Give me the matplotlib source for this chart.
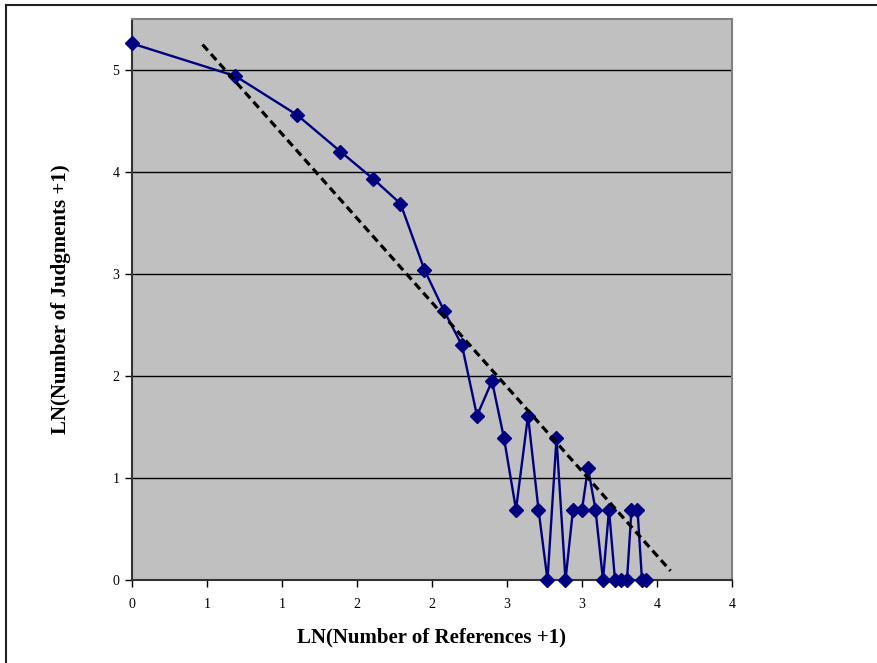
import matplotlib
matplotlib.use("Agg")
import matplotlib.pyplot as plt
from matplotlib.lines import Line2D

# LN(Number of References +1) vs LN(Number of Judgments +1)
x_refs = [0.00, 0.69, 1.10, 1.39, 1.61, 1.79, 1.95, 2.08, 2.20, 2.30, 2.40,
          2.48, 2.56, 2.64, 2.71, 2.77, 2.83, 2.89, 2.94, 3.00, 3.04, 3.09,
          3.14, 3.18, 3.22, 3.26, 3.30, 3.33, 3.37, 3.40, 3.43]
y_judg = [5.26, 4.94, 4.56, 4.20, 3.93, 3.69, 3.04, 2.64, 2.30, 1.61, 1.95,
          1.39, 0.69, 1.61, 0.69, 0.00, 1.39, 0.00, 0.69, 0.69, 1.10, 0.69,
          0.00, 0.69, 0.00, 0.00, 0.00, 0.69, 0.69, 0.00, 0.00]

# dashed trend line end points
trend_x = [0.47, 3.59]
trend_y = [5.25, 0.09]

x_ticks = [0, 0.5, 1, 1.5, 2, 2.5, 3, 3.5, 4]
x_tick_labels = ["0", "1", "1", "2", "2", "3", "3", "4", "4"]
y_ticks = [0, 1, 2, 3, 4, 5]

plt.rcParams["font.family"] = ["Liberation Serif", "DejaVu Serif"]

fig = plt.figure(figsize=(8.78, 6.63), dpi=100)
ax = fig.add_axes([132 / 878, 83 / 663, 600 / 878, 561 / 663])
ax.set_facecolor("#C0C0C0")

ax.plot(x_refs, y_judg, color="#000080", lw=1.7, marker="D", ms=7.5,
        zorder=3, clip_on=False)
ax.plot(trend_x, trend_y, color="black", lw=2.3, linestyle=(0, (2.5, 1.5)),
        zorder=4)

ax.set_xlim(0, 4)
ax.set_ylim(0, 5.5)
ax.set_xticks(x_ticks)
ax.set_xticklabels(x_tick_labels)
ax.set_yticks(y_ticks)

for y in y_ticks[1:]:
    ax.axhline(y, color="black", lw=1, zorder=1)

ax.tick_params(axis="both", direction="out", length=5, width=1,
               labelsize=10, colors="black")
ax.tick_params(axis="x", pad=8)
ax.tick_params(axis="y", pad=4)

for side in ("top", "right"):
    ax.spines[side].set_color("#808080")
    ax.spines[side].set_linewidth(1.5)
for side in ("left", "bottom"):
    ax.spines[side].set_color("#333333")
    ax.spines[side].set_linewidth(1.5)

ax.set_xlabel("LN(Number of References +1)", fontsize=15, fontweight="bold",
              labelpad=12)
ax.set_ylabel("LN(Number of Judgments +1)", fontsize=15, fontweight="bold",
              labelpad=30)

# outer frame (only top and left edges visible)
fig.add_artist(Line2D([6 / 878, 1], [1 - 5 / 663, 1 - 5 / 663],
                      color="#222222", lw=1.5, transform=fig.transFigure))
fig.add_artist(Line2D([6 / 878, 6 / 878], [0, 1 - 5 / 663],
                      color="#222222", lw=1.5, transform=fig.transFigure))

fig.savefig("out.png", dpi=100)
